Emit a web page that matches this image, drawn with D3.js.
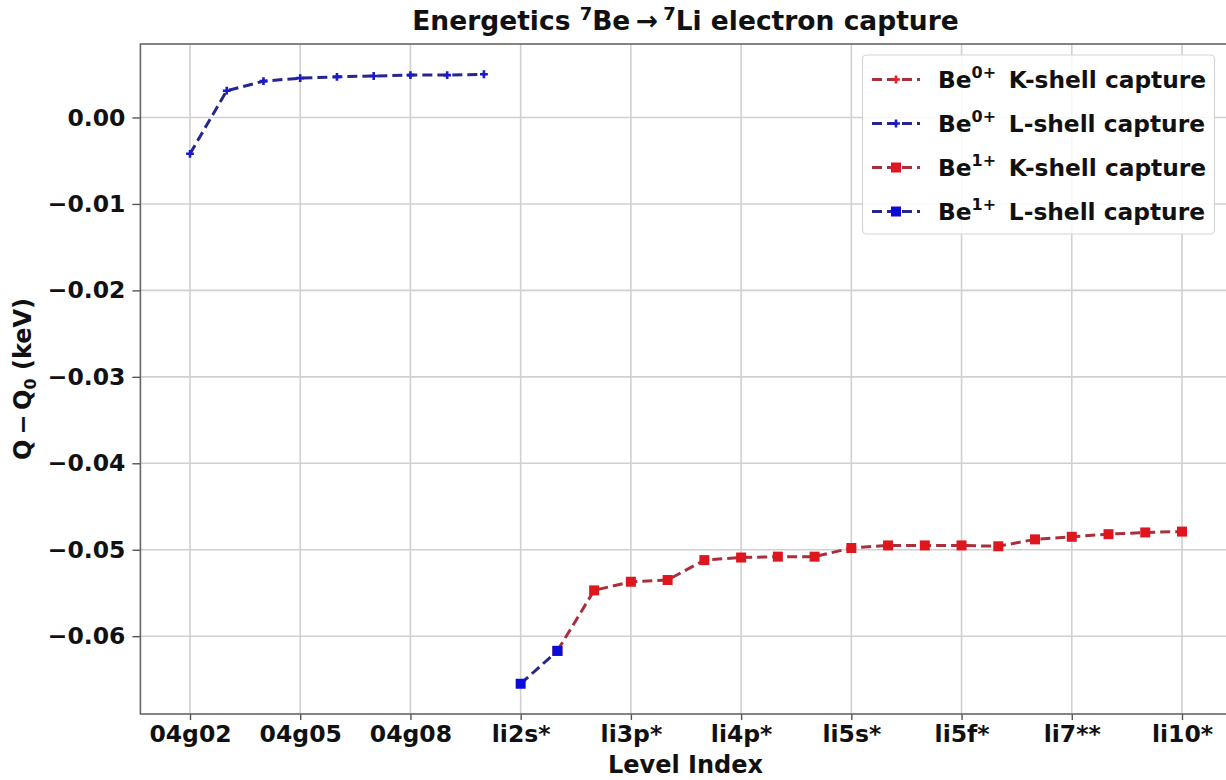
<!DOCTYPE html>
<html>
<head>
<meta charset="utf-8">
<script src="https://cdn.jsdelivr.net/npm/d3@7"></script>
<style>
  html, body { margin: 0; padding: 0; background: #fff; }
  svg text { font-family: "DejaVu Sans", Verdana, sans-serif; font-weight: bold; fill: #111; }
</style>
</head>
<body>
<svg id="chart" width="1226" height="780"></svg>
<script>
// Level labels along the x axis
const categories = ["04g02","04g03","04g04","04g05","04g06","04g07","04g08","04g09","04g10",
  "li2s*","li2p*","li3s*","li3p*","li3d*","li4s*","li4p*","li4d*","li4f*",
  "li5s*","li5p*","li5d*","li5f*","li5g*","li6*","li7**","li8*","li9*","li10*"];
const tickLabels = ["04g02","04g05","04g08","li2s*","li3p*","li4p*","li5s*","li5f*","li7**","li10*"];
const yTicks = [0.00, -0.01, -0.02, -0.03, -0.04, -0.05, -0.06];

// Q - Q0 (keV) for each series
const be0KLevels = [];
const be0KValues = [];
const be0LLevels = categories.slice(0, 9);
const be0LValues = [-0.0042, 0.0031, 0.0042, 0.00455, 0.0047, 0.0048, 0.0049, 0.0049, 0.0050];
const be1KLevels = categories.slice(10, 28);
const be1KValues = [-0.0617, -0.0547, -0.0537, -0.0535, -0.0512, -0.0509, -0.0508, -0.0508,
  -0.0498, -0.0495, -0.0495, -0.0495, -0.0496, -0.0488, -0.0485, -0.0482, -0.0480, -0.0479];
const be1LLevels = categories.slice(9, 11);
const be1LValues = [-0.0655, -0.0617];

const svg = d3.select("#chart");
const plotLeft = 140.4, plotRight = 1231.6, plotTop = 44, plotBottom = 714;

const x = d3.scalePoint().domain(categories).range([plotLeft, plotRight]).padding(1.35);
const y = d3.scaleLinear().domain([-0.069, 0.0085]).range([plotBottom, plotTop]);

const fmt = v => (v < 0 ? "\u2212" : "") + Math.abs(v).toFixed(2);

// clip for plot area
svg.append("defs").append("clipPath").attr("id", "plot")
  .append("rect").attr("x", plotLeft).attr("y", plotTop)
  .attr("width", plotRight - plotLeft).attr("height", plotBottom - plotTop);

// grid
const grid = svg.append("g");
grid.selectAll("line.gx").data(tickLabels).join("line")
  .attr("x1", d => x(d)).attr("x2", d => x(d)).attr("y1", plotTop).attr("y2", plotBottom)
  .attr("stroke", "#d0d0d0").attr("stroke-width", 1.6);
grid.selectAll("line.gy").data(yTicks).join("line")
  .attr("x1", plotLeft).attr("x2", plotRight).attr("y1", d => y(d)).attr("y2", d => y(d))
  .attr("stroke", "#d0d0d0").attr("stroke-width", 1.6);

// axes
const xAxis = d3.axisBottom(x).tickValues(tickLabels).tickSize(6).tickPadding(5);
const yAxis = d3.axisLeft(y).tickValues(yTicks).tickFormat(fmt).tickSize(8).tickPadding(7);

const gx = svg.append("g").attr("transform", `translate(0,${plotBottom})`).call(xAxis);
const gy = svg.append("g").attr("transform", `translate(${plotLeft},0)`).call(yAxis);
[gx, gy].forEach(g => {
  g.select(".domain").remove();
  g.selectAll(".tick line").attr("stroke", "#555").attr("stroke-width", 1.4);
  g.selectAll(".tick text").attr("font-size", 23.5).attr("font-family", "DejaVu Sans")
    .attr("font-weight", "bold").attr("fill", "#111");
});

// spines
svg.append("rect").attr("x", plotLeft).attr("y", plotTop)
  .attr("width", plotRight - plotLeft).attr("height", plotBottom - plotTop)
  .attr("fill", "none").attr("stroke", "#666").attr("stroke-width", 1.6);

// series
const plot = svg.append("g").attr("clip-path", "url(#plot)");
const line = d3.line().x(d => x(d[0])).y(d => y(d[1]));

const series = [
  { levels: be0KLevels, values: be0KValues, line: "#a8303e", fill: "#e0202a", marker: "cross", label: ["0+", "K-shell capture"] },
  { levels: be0LLevels, values: be0LValues, line: "#26268c", fill: "#1a1ac8", marker: "cross", label: ["0+", "L-shell capture"] },
  { levels: be1KLevels, values: be1KValues, line: "#a8303e", fill: "#e0161e", marker: "square", label: ["1+", "K-shell capture"] },
  { levels: be1LLevels, values: be1LValues, line: "#26268c", fill: "#0c0cd8", marker: "square", label: ["1+", "L-shell capture"] }
];

function drawMarker(g, s, cx, cy) {
  if (s.marker === "square") {
    g.append("rect").attr("x", cx - 5).attr("y", cy - 5).attr("width", 10).attr("height", 10)
      .attr("fill", s.fill);
  } else {
    g.append("path").attr("d", d3.symbol(d3.symbolCross, 34)())
      .attr("transform", `translate(${cx},${cy})`).attr("fill", s.fill);
  }
}

series.forEach(s => {
  const pts = s.levels.map((c, i) => [c, s.values[i]]);
  if (!pts.length) return;
  plot.append("path").datum(pts).attr("d", line)
    .attr("fill", "none").attr("stroke", s.line).attr("stroke-width", 3)
    .attr("stroke-dasharray", "10,5");
  const mg = plot.append("g");
  pts.forEach(p => drawMarker(mg, s, x(p[0]), y(p[1])));
});

// legend
const lg = svg.append("g");
lg.append("rect").attr("x", 862.5).attr("y", 55).attr("width", 352).attr("height", 179).attr("rx", 4)
  .attr("fill", "#fff").attr("fill-opacity", 0.85).attr("stroke", "#d6d6d6").attr("stroke-width", 1.2);
series.forEach((s, i) => {
  const cy = 79.5 + i * 44;
  lg.append("line").attr("x1", 872).attr("x2", 920).attr("y1", cy).attr("y2", cy)
    .attr("stroke", s.line).attr("stroke-width", 3).attr("stroke-dasharray", "10,5");
  drawMarker(lg, s, 896, cy);
  const t = lg.append("text").attr("x", 938).attr("y", cy + 8.5).attr("font-size", 23.3);
  t.append("tspan").text("Be");
  t.append("tspan").attr("font-size", 16).attr("dy", -10).text(s.label[0]);
  t.append("tspan").attr("dy", 10).text("\u00a0\u2009" + s.label[1]);
});

// title
const title = svg.append("text").attr("x", 685.5).attr("y", 30).attr("text-anchor", "middle").attr("font-size", 26.5);
title.append("tspan").text("Energetics ");
title.append("tspan").attr("font-size", 18).attr("dy", -10).text("7");
title.append("tspan").attr("dy", 10).text("Be\u2009\u2192\u2009");
title.append("tspan").attr("font-size", 18).attr("dy", -10).text("7");
title.append("tspan").attr("dy", 10).text("Li electron capture");

// axis labels
svg.append("text").attr("x", 685.5).attr("y", 773).attr("text-anchor", "middle").attr("font-size", 24)
  .text("Level Index");
const yl = svg.append("text").attr("transform", `translate(31,${(plotTop + plotBottom) / 2}) rotate(-90)`)
  .attr("text-anchor", "middle").attr("font-size", 24);
yl.append("tspan").text("Q\u2009\u2212\u2009Q");
yl.append("tspan").attr("font-size", 16).attr("dy", 5).text("0");
yl.append("tspan").attr("dy", -5).text(" (keV)");
</script>
</body>
</html>
